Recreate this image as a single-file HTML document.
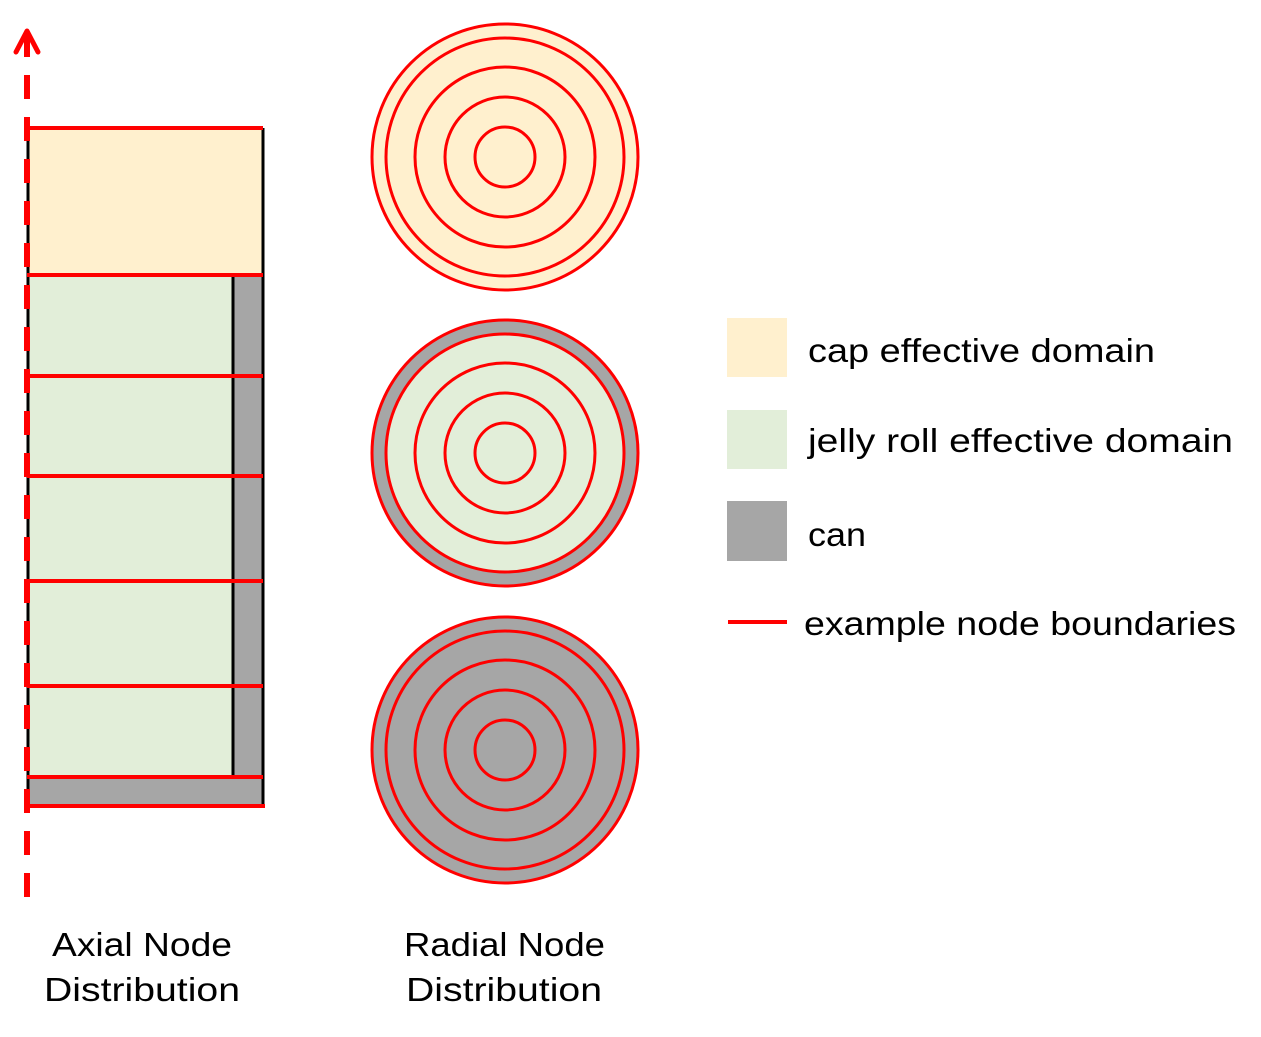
<!DOCTYPE html>
<html><head><style>
html,body{margin:0;padding:0;background:#fff;}
svg text{font-family:"Liberation Sans",sans-serif;font-size:33px;fill:#000;}
</style></head><body>
<svg width="1261" height="1032" viewBox="0 0 1261 1032" xmlns="http://www.w3.org/2000/svg">
<rect x="27" y="128" width="236" height="147" fill="#fff0ce"/>
<rect x="27" y="275" width="206" height="502" fill="#e2eed9"/>
<rect x="233" y="275" width="30" height="502" fill="#a6a6a6"/>
<rect x="27" y="777" width="236" height="29" fill="#a6a6a6"/>
<g stroke="#000" stroke-width="3">
<line x1="28" y1="128" x2="28" y2="806"/>
<line x1="263" y1="128" x2="263" y2="806"/>
<line x1="233" y1="275" x2="233" y2="777"/>
</g>
<g stroke="#f00" stroke-width="4">
<line x1="27" y1="128" x2="263" y2="128"/>
<line x1="27" y1="275" x2="263" y2="275"/>
<line x1="27" y1="376" x2="263" y2="376"/>
<line x1="27" y1="476" x2="263" y2="476"/>
<line x1="27" y1="581" x2="263" y2="581"/>
<line x1="27" y1="686" x2="263" y2="686"/>
<line x1="27" y1="777" x2="263" y2="777"/>
<line x1="27" y1="806" x2="265" y2="806"/>
</g>
<line x1="27" y1="897" x2="27" y2="47" stroke="#f00" stroke-width="6" stroke-dasharray="24 18"/>
<polyline points="16,52 27,31 38,52" fill="none" stroke="#f00" stroke-width="5" stroke-linecap="round" stroke-linejoin="round"/>
<line x1="27" y1="34" x2="27" y2="55" stroke="#f00" stroke-width="6"/>
<g stroke="#f00" stroke-width="3">
<circle cx="505" cy="157" r="133" fill="#fff0ce"/>
<circle cx="505" cy="157" r="119" fill="#fff0ce"/>
<circle cx="505" cy="157" r="90" fill="none"/>
<circle cx="505" cy="157" r="60" fill="none"/>
<circle cx="505" cy="157" r="30" fill="none"/>
<circle cx="505" cy="453" r="133" fill="#a6a6a6"/>
<circle cx="505" cy="453" r="119" fill="#e2eed9"/>
<circle cx="505" cy="453" r="90" fill="none"/>
<circle cx="505" cy="453" r="60" fill="none"/>
<circle cx="505" cy="453" r="30" fill="none"/>
<circle cx="505" cy="750" r="133" fill="#a6a6a6"/>
<circle cx="505" cy="750" r="119" fill="#a6a6a6"/>
<circle cx="505" cy="750" r="90" fill="none"/>
<circle cx="505" cy="750" r="60" fill="none"/>
<circle cx="505" cy="750" r="30" fill="none"/>
</g>
<rect x="727" y="318" width="60" height="59" fill="#fff0ce"/>
<rect x="727" y="410" width="60" height="59" fill="#e2eed9"/>
<rect x="727" y="501" width="60" height="60" fill="#a6a6a6"/>
<line x1="728" y1="622" x2="787" y2="622" stroke="#f00" stroke-width="4"/>
<text x="808" y="362" textLength="347" lengthAdjust="spacingAndGlyphs">cap effective domain</text>
<text x="808" y="452" textLength="425" lengthAdjust="spacingAndGlyphs">jelly roll effective domain</text>
<text x="808" y="546" textLength="58" lengthAdjust="spacingAndGlyphs">can</text>
<text x="804" y="635" textLength="432" lengthAdjust="spacingAndGlyphs">example node boundaries</text>
<text x="52" y="956" textLength="180" lengthAdjust="spacingAndGlyphs">Axial Node</text>
<text x="44" y="1001" textLength="196" lengthAdjust="spacingAndGlyphs">Distribution</text>
<text x="404" y="956" textLength="201" lengthAdjust="spacingAndGlyphs">Radial Node</text>
<text x="406" y="1001" textLength="196" lengthAdjust="spacingAndGlyphs">Distribution</text>
</svg>
</body></html>
